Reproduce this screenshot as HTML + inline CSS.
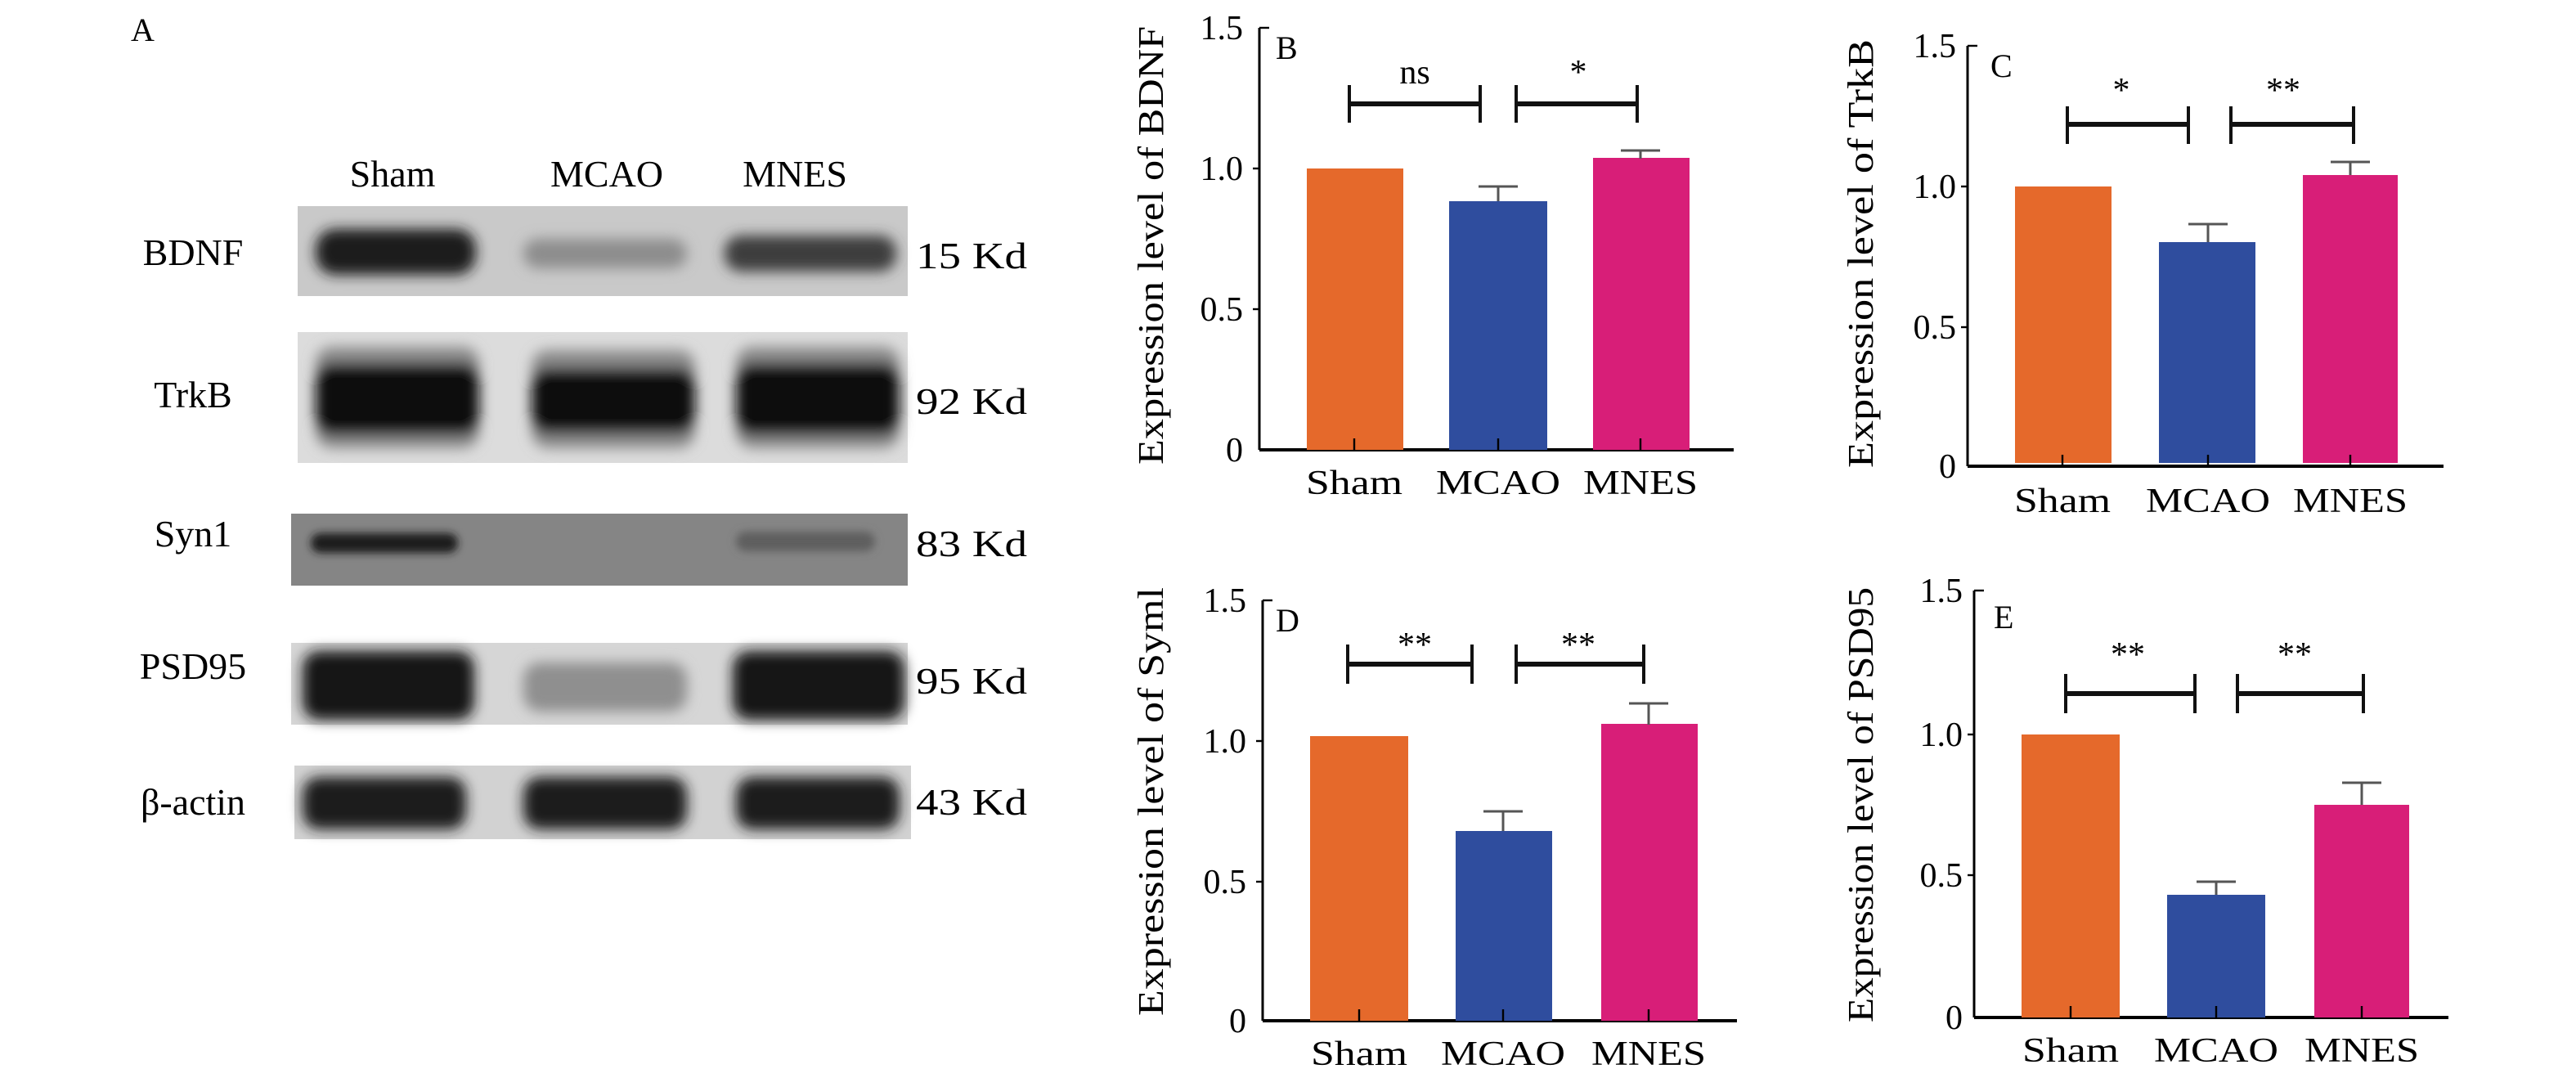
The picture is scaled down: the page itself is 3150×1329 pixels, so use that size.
<!DOCTYPE html>
<html><head><meta charset="utf-8"><style>html,body{margin:0;padding:0;background:#fff}svg{display:block}</style></head>
<body>
<svg width="3150" height="1329" viewBox="0 0 1575 664.5" xmlns="http://www.w3.org/2000/svg" font-family="'Liberation Serif', serif">
<defs>
<filter id="b4" x="-30%" y="-60%" width="160%" height="220%"><feGaussianBlur stdDeviation="4"/></filter>
<filter id="b2" x="-30%" y="-60%" width="160%" height="220%"><feGaussianBlur stdDeviation="2.5"/></filter>
</defs>
<rect width="1575" height="664.5" fill="#fff"/>
<!-- Panel A -->
<text x="80" y="25" font-size="20">A</text>
<g font-size="23" text-anchor="middle">
<text x="240" y="114">Sham</text><text x="371" y="114">MCAO</text><text x="486" y="114">MNES</text>
<text x="118" y="162">BDNF</text><text x="118" y="249">TrkB</text><text x="118" y="334">Syn1</text>
<text x="118" y="415">PSD95</text><text x="118" y="498">β-actin</text>
</g>
<g font-size="23">
<text x="560" y="164" textLength="68" lengthAdjust="spacingAndGlyphs">15 Kd</text><text x="560" y="253" textLength="68" lengthAdjust="spacingAndGlyphs">92 Kd</text><text x="560" y="340" textLength="68" lengthAdjust="spacingAndGlyphs">83 Kd</text>
<text x="560" y="424" textLength="68" lengthAdjust="spacingAndGlyphs">95 Kd</text><text x="560" y="498" textLength="68" lengthAdjust="spacingAndGlyphs">43 Kd</text>
</g>
<!-- BDNF -->
<rect x="182" y="126" width="373" height="55" fill="#c9c9c9"/>
<g filter="url(#b4)">
<rect x="193" y="140" width="98" height="28" rx="12" fill="#1a1a1a"/>
<rect x="320" y="146" width="100" height="18" rx="9" fill="#8d8d8d"/>
<rect x="443" y="144" width="105" height="22" rx="10" fill="#3e3e3e"/>
</g>
<!-- TrkB -->
<rect x="182" y="203" width="373" height="80" fill="#dcdcdc"/>
<g filter="url(#b4)">
<rect x="193" y="212" width="100" height="62" rx="10" fill="#8a8a8a"/>
<rect x="193" y="222" width="100" height="44" rx="10" fill="#111"/>
<rect x="325" y="214" width="100" height="60" rx="10" fill="#8a8a8a"/>
<rect x="325" y="225" width="100" height="40" rx="10" fill="#111"/>
<rect x="450" y="212" width="100" height="62" rx="10" fill="#8a8a8a"/>
<rect x="450" y="222" width="100" height="44" rx="10" fill="#111"/>
</g>
<!-- Syn1 -->
<rect x="178" y="314" width="377" height="44" fill="#858585"/>
<g filter="url(#b2)">
<rect x="190" y="326" width="90" height="12" rx="6" fill="#1e1e1e"/>
<rect x="450" y="325" width="85" height="12" rx="6" fill="#5e5e5e"/>
</g>
<!-- PSD95 -->
<rect x="178" y="393" width="377" height="50" fill="#d6d6d6"/>
<g filter="url(#b4)">
<rect x="185" y="398" width="105" height="42" rx="10" fill="#161616"/>
<rect x="320" y="405" width="100" height="30" rx="10" fill="#8f8f8f"/>
<rect x="448" y="398" width="105" height="42" rx="10" fill="#161616"/>
</g>
<!-- actin -->
<rect x="180" y="468" width="377" height="45" fill="#d2d2d2"/>
<g filter="url(#b4)">
<rect x="185" y="475" width="100" height="32" rx="10" fill="#1a1a1a"/>
<rect x="320" y="475" width="100" height="32" rx="10" fill="#1f1f1f"/>
<rect x="450" y="475" width="100" height="32" rx="10" fill="#1f1f1f"/>
</g>

<g id="B">
<text transform="translate(711,150) rotate(-90)" font-size="22" text-anchor="middle" textLength="268" lengthAdjust="spacingAndGlyphs">Expression level of BDNF</text>
<g font-size="21" text-anchor="end"><text x="760" y="24">1.5</text><text x="760" y="110">1.0</text><text x="760" y="196">0.5</text><text x="760" y="282">0</text></g>
<line x1="770" y1="17" x2="770" y2="275" stroke="#000" stroke-width="1.5"/>
<line x1="770" y1="275" x2="1060" y2="275" stroke="#000" stroke-width="2"/>
<g stroke="#000" stroke-width="1.2"><line x1="770" y1="17" x2="776" y2="17"/><line x1="766" y1="103" x2="770" y2="103"/><line x1="766" y1="189" x2="770" y2="189"/></g>
<rect x="799" y="103" width="59" height="172" fill="#e5692b"/>
<rect x="886" y="123" width="60" height="152" fill="#2f4d9e"/>
<rect x="974" y="96.5" width="59" height="178.5" fill="#d81e78"/>
<g stroke="#555" stroke-width="1.5"><line x1="916" y1="114" x2="916" y2="123"/><line x1="904" y1="114" x2="928" y2="114"/><line x1="1003" y1="92" x2="1003" y2="97"/><line x1="991" y1="92" x2="1015" y2="92"/></g>
<g stroke="#000" stroke-width="1.2"><line x1="828" y1="268" x2="828" y2="275"/><line x1="916" y1="268" x2="916" y2="275"/><line x1="1003" y1="268" x2="1003" y2="275"/></g>
<g stroke="#111" stroke-width="3"><line x1="825" y1="63.5" x2="905" y2="63.5"/><line x1="927" y1="63.5" x2="1001" y2="63.5"/></g>
<g stroke="#111" stroke-width="2"><line x1="825" y1="52" x2="825" y2="75"/><line x1="905" y1="52" x2="905" y2="75"/><line x1="927" y1="52" x2="927" y2="75"/><line x1="1001" y1="52" x2="1001" y2="75"/></g>
<g font-size="21" text-anchor="middle"><text x="865" y="51">ns</text><text x="965" y="51">*</text></g>
<text x="780" y="36" font-size="20">B</text>
<g font-size="21" text-anchor="middle"><text x="828" y="302" textLength="59" lengthAdjust="spacingAndGlyphs">Sham</text><text x="916" y="302" textLength="76" lengthAdjust="spacingAndGlyphs">MCAO</text><text x="1003" y="302" textLength="70" lengthAdjust="spacingAndGlyphs">MNES</text></g>
</g>

<g id="C">
<text transform="translate(1145,155) rotate(-90)" font-size="22" text-anchor="middle" textLength="262" lengthAdjust="spacingAndGlyphs">Expression level of TrkB</text>
<g font-size="21" text-anchor="end"><text x="1196" y="35">1.5</text><text x="1196" y="121">1.0</text><text x="1196" y="207">0.5</text><text x="1196" y="292">0</text></g>
<line x1="1203" y1="28" x2="1203" y2="285" stroke="#000" stroke-width="1.5"/>
<line x1="1203" y1="285" x2="1494" y2="285" stroke="#000" stroke-width="2"/>
<g stroke="#000" stroke-width="1.2"><line x1="1203" y1="28" x2="1209" y2="28"/><line x1="1199" y1="114" x2="1203" y2="114"/><line x1="1199" y1="200" x2="1203" y2="200"/></g>
<rect x="1232" y="114" width="59" height="169" fill="#e5692b"/>
<rect x="1320" y="148" width="59" height="135" fill="#2f4d9e"/>
<rect x="1408" y="107" width="58" height="176" fill="#d81e78"/>
<g stroke="#555" stroke-width="1.5"><line x1="1350" y1="137" x2="1350" y2="148"/><line x1="1338" y1="137" x2="1362" y2="137"/><line x1="1437" y1="99" x2="1437" y2="107"/><line x1="1425" y1="99" x2="1449" y2="99"/></g>
<g stroke="#000" stroke-width="1.2"><line x1="1261" y1="278" x2="1261" y2="285"/><line x1="1350" y1="278" x2="1350" y2="285"/><line x1="1437" y1="278" x2="1437" y2="285"/></g>
<g stroke="#111" stroke-width="3"><line x1="1264" y1="76" x2="1338" y2="76"/><line x1="1364" y1="76" x2="1439" y2="76"/></g>
<g stroke="#111" stroke-width="2"><line x1="1264" y1="65" x2="1264" y2="88"/><line x1="1338" y1="65" x2="1338" y2="88"/><line x1="1364" y1="65" x2="1364" y2="88"/><line x1="1439" y1="65" x2="1439" y2="88"/></g>
<g font-size="21" text-anchor="middle"><text x="1297" y="62">*</text><text x="1396" y="62">**</text></g>
<text x="1217" y="47" font-size="20">C</text>
<g font-size="21" text-anchor="middle"><text x="1261" y="313" textLength="59" lengthAdjust="spacingAndGlyphs">Sham</text><text x="1350" y="313" textLength="76" lengthAdjust="spacingAndGlyphs">MCAO</text><text x="1437" y="313" textLength="70" lengthAdjust="spacingAndGlyphs">MNES</text></g>
</g>

<g id="D">
<text transform="translate(711,490) rotate(-90)" font-size="22" text-anchor="middle" textLength="262" lengthAdjust="spacingAndGlyphs">Expression level of Syml</text>
<g font-size="21" text-anchor="end"><text x="762" y="374">1.5</text><text x="762" y="460">1.0</text><text x="762" y="546">0.5</text><text x="762" y="631">0</text></g>
<line x1="772" y1="367" x2="772" y2="624" stroke="#000" stroke-width="1.5"/>
<line x1="772" y1="624" x2="1062" y2="624" stroke="#000" stroke-width="2"/>
<g stroke="#000" stroke-width="1.2"><line x1="772" y1="367" x2="778" y2="367"/><line x1="768" y1="453" x2="772" y2="453"/><line x1="768" y1="539" x2="772" y2="539"/></g>
<rect x="801" y="450" width="60" height="174" fill="#e5692b"/>
<rect x="890" y="508" width="59" height="116" fill="#2f4d9e"/>
<rect x="979" y="442.5" width="59" height="181.5" fill="#d81e78"/>
<g stroke="#555" stroke-width="1.5"><line x1="919" y1="496" x2="919" y2="508"/><line x1="907" y1="496" x2="931" y2="496"/><line x1="1008" y1="430" x2="1008" y2="443"/><line x1="996" y1="430" x2="1020" y2="430"/></g>
<g stroke="#000" stroke-width="1.2"><line x1="831" y1="617" x2="831" y2="624"/><line x1="919" y1="617" x2="919" y2="624"/><line x1="1008" y1="617" x2="1008" y2="624"/></g>
<g stroke="#111" stroke-width="3"><line x1="824" y1="406" x2="900" y2="406"/><line x1="927" y1="406" x2="1005" y2="406"/></g>
<g stroke="#111" stroke-width="2"><line x1="824" y1="394" x2="824" y2="418"/><line x1="900" y1="394" x2="900" y2="418"/><line x1="927" y1="394" x2="927" y2="418"/><line x1="1005" y1="394" x2="1005" y2="418"/></g>
<g font-size="21" text-anchor="middle"><text x="865" y="401">**</text><text x="965" y="401">**</text></g>
<text x="780" y="386" font-size="20">D</text>
<g font-size="21" text-anchor="middle"><text x="831" y="651" textLength="59" lengthAdjust="spacingAndGlyphs">Sham</text><text x="919" y="651" textLength="76" lengthAdjust="spacingAndGlyphs">MCAO</text><text x="1008" y="651" textLength="70" lengthAdjust="spacingAndGlyphs">MNES</text></g>
</g>

<g id="E">
<text transform="translate(1145,492) rotate(-90)" font-size="22" text-anchor="middle" textLength="266" lengthAdjust="spacingAndGlyphs">Expression level of PSD95</text>
<g font-size="21" text-anchor="end"><text x="1200" y="368">1.5</text><text x="1200" y="456">1.0</text><text x="1200" y="542">0.5</text><text x="1200" y="629">0</text></g>
<line x1="1207" y1="361" x2="1207" y2="622" stroke="#000" stroke-width="1.5"/>
<line x1="1207" y1="622" x2="1497" y2="622" stroke="#000" stroke-width="2"/>
<g stroke="#000" stroke-width="1.2"><line x1="1207" y1="361" x2="1213" y2="361"/><line x1="1203" y1="449" x2="1207" y2="449"/><line x1="1203" y1="535" x2="1207" y2="535"/></g>
<rect x="1236" y="449" width="60" height="173" fill="#e5692b"/>
<rect x="1325" y="547" width="60" height="75" fill="#2f4d9e"/>
<rect x="1415" y="492" width="58" height="130" fill="#d81e78"/>
<g stroke="#555" stroke-width="1.5"><line x1="1355" y1="539" x2="1355" y2="547"/><line x1="1343" y1="539" x2="1367" y2="539"/><line x1="1444" y1="478.5" x2="1444" y2="492"/><line x1="1432" y1="478.5" x2="1456" y2="478.5"/></g>
<g stroke="#000" stroke-width="1.2"><line x1="1266" y1="615" x2="1266" y2="622"/><line x1="1355" y1="615" x2="1355" y2="622"/><line x1="1444" y1="615" x2="1444" y2="622"/></g>
<g stroke="#111" stroke-width="3"><line x1="1263" y1="424" x2="1342" y2="424"/><line x1="1368" y1="424" x2="1445" y2="424"/></g>
<g stroke="#111" stroke-width="2"><line x1="1263" y1="412" x2="1263" y2="436"/><line x1="1342" y1="412" x2="1342" y2="436"/><line x1="1368" y1="412" x2="1368" y2="436"/><line x1="1445" y1="412" x2="1445" y2="436"/></g>
<g font-size="21" text-anchor="middle"><text x="1301" y="407">**</text><text x="1403" y="407">**</text></g>
<text x="1219" y="384" font-size="20">E</text>
<g font-size="21" text-anchor="middle"><text x="1266" y="649" textLength="59" lengthAdjust="spacingAndGlyphs">Sham</text><text x="1355" y="649" textLength="76" lengthAdjust="spacingAndGlyphs">MCAO</text><text x="1444" y="649" textLength="70" lengthAdjust="spacingAndGlyphs">MNES</text></g>
</g>
</svg>
</body></html>
